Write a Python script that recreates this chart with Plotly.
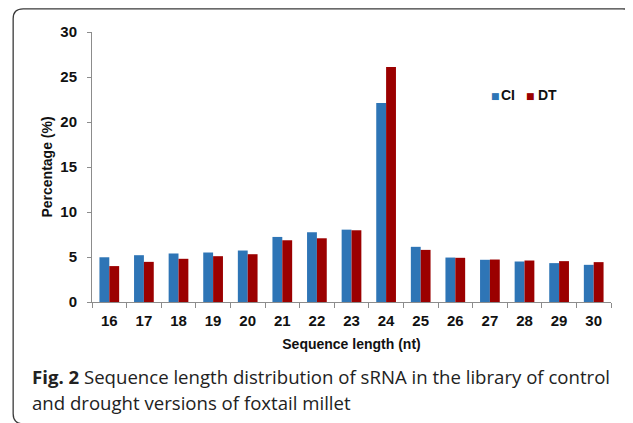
import plotly.graph_objects as go

# ---- data ----
lengths = ["16", "17", "18", "19", "20", "21", "22", "23", "24", "25", "26", "27", "28", "29", "30"]
ci_values = [4.97, 5.20, 5.39, 5.50, 5.72, 7.23, 7.75, 8.04, 22.1, 6.13, 4.94, 4.69, 4.50, 4.32, 4.13]
dt_values = [3.99, 4.46, 4.80, 5.09, 5.31, 6.86, 7.08, 7.97, 26.1, 5.79, 4.91, 4.72, 4.61, 4.54, 4.43]
series_names = ["CI", "DT"]
series_colors = ["#2E75B6", "#9B0000"]
y_ticks = [0, 5, 10, 15, 20, 25, 30]
caption_1 = "<b>Fig. 2</b> Sequence length distribution of sRNA in the library of control"
caption_2 = "and drought versions of foxtail millet"

# ---- geometry (page pixels; the page body adds an 8px offset) ----
OFF = 8
W, H = 633 - OFF, 423 - OFF
L, R, T, B = 92.3, 611.0, 31.7, 301.7


def px(x):
    return (x - L) / (R - L)


def py(y):
    return (B - y) / (B - T)


FONT = "Liberation Sans, Arial, sans-serif"
TXT = "#111111"

fig = go.Figure()
for name, vals, col in zip(series_names, [ci_values, dt_values], series_colors):
    fig.add_trace(go.Bar(x=lengths, y=vals, name=name, marker_color=col, marker_line_width=0))

fig.update_layout(
    width=W, height=H,
    margin=dict(l=L - OFF, r=W - (R - OFF), t=T - OFF, b=H - (B - OFF), pad=0),
    paper_bgcolor="white", plot_bgcolor="white",
    barmode="group", bargap=0.43, bargroupgap=0,
    font=dict(family=FONT, size=14, color=TXT),
    showlegend=False,
)

fig.update_xaxes(
    type="category", showline=True, linecolor="#8c8c8c", linewidth=1,
    ticks="outside", tickson="boundaries", ticklen=5, tickcolor="#8c8c8c",
    tickfont=dict(family=FONT, size=15, weight=700, color=TXT),
    ticklabelstandoff=5,
    showgrid=False, zeroline=False,
    title=dict(text="Sequence length (nt)", font=dict(family=FONT, size=14, weight=700, color=TXT),
               standoff=11),
)
fig.update_yaxes(
    range=[0, 30], tickvals=y_ticks, showline=True, linecolor="#8c8c8c", linewidth=1,
    ticks="outside", ticklen=4, tickcolor="#8c8c8c",
    tickfont=dict(family=FONT, size=15, weight=700, color=TXT),
    ticklabelstandoff=7,
    showgrid=False, zeroline=False,
    title=dict(text="Percentage (%)", font=dict(family=FONT, size=14, weight=700, color=TXT),
               standoff=4),
)

# legend (text glyphs)
for name, col, sq_x, tx_x in zip(series_names, series_colors, [489.5, 523.8], [499, 536.5]):
    fig.add_annotation(text="■", xref="paper", yref="paper", x=px(sq_x), y=py(95.5),
                       xanchor="left", yanchor="middle", showarrow=False,
                       font=dict(family="DejaVu Sans", size=9, color=col))
    fig.add_annotation(text=f"<b>{name}</b>", xref="paper", yref="paper", x=px(tx_x), y=py(95),
                       xanchor="left", yanchor="middle", showarrow=False,
                       font=dict(family=FONT, size=14, color=TXT))

# caption
for text, yy in [(caption_1, 376), (caption_2, 402)]:
    fig.add_annotation(text=text, xref="paper", yref="paper", x=px(30), y=py(yy),
                       xanchor="left", yanchor="middle", showarrow=False,
                       font=dict(family="Open Sans, Noto Sans, sans-serif", size=18.6, color="#222222"))

# rounded frame (right and bottom edges fall at the image border)
x0, y0, x1, y1, r = 13.5, 8.5, 632.5, 423.5, 10
path = (f"M {px(x0 + r)},{py(y0)} L {px(x1 - r)},{py(y0)} "
        f"Q {px(x1)},{py(y0)} {px(x1)},{py(y0 + r)} L {px(x1)},{py(y1 - r)} "
        f"Q {px(x1)},{py(y1)} {px(x1 - r)},{py(y1)} L {px(x0 + r)},{py(y1)} "
        f"Q {px(x0)},{py(y1)} {px(x0)},{py(y1 - r)} L {px(x0)},{py(y0 + r)} "
        f"Q {px(x0)},{py(y0)} {px(x0 + r)},{py(y0)} Z")
fig.add_shape(type="path", path=path, xref="paper", yref="paper",
              line=dict(color="#3a3a3a", width=1.3), layer="above")

fig.write_html("out.html")
